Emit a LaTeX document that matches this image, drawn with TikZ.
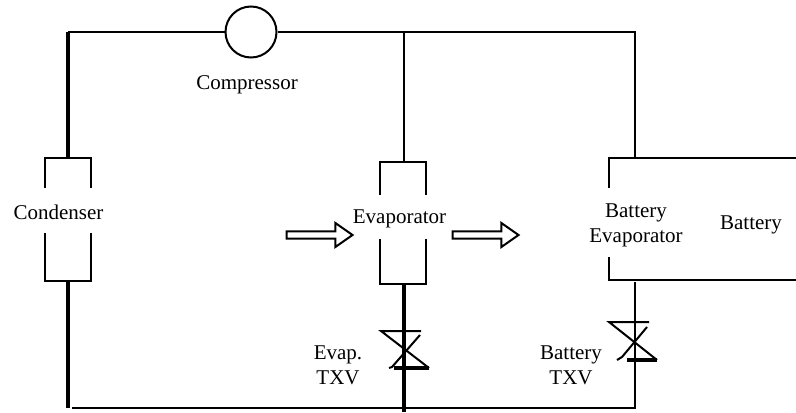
\documentclass[tikz,border=0pt]{standalone}
\usepackage{fontspec}
\setmainfont{Liberation Serif}
\usetikzlibrary{shapes.arrows}
\tikzset{
  pipe/.style={line width=1pt},
  thickpipe/.style={line width=1.6pt},
  label/.style={font=\fontsize{10.5}{12.5}\selectfont,align=center,inner sep=0pt},
  airflow/.style={draw,line width=1pt,single arrow,inner sep=0pt,minimum height=33pt,
    minimum width=12pt,single arrow head extend=1.2pt,single arrow tip angle=70,
    single arrow head indent=0pt},
}
\begin{document}
\begin{tikzpicture}[x=0.5pt,y=-0.5pt]
\useasboundingbox (0,0) rectangle (796,412);
% compressor and labels
\node[draw,circle,line width=1pt,minimum size=25.5pt,inner sep=0pt] (comp) at (251,32) {};
\node[label] (complabel) at (247,85) {Compressor};
\node[label] (condlabel) at (58.5,212) {Condenser};
\node[label] (evaplabel) at (399.5,219) {Evaporator};
\node[label] (battevaplabel) at (636,225) {Battery\\Evaporator};
\node[label] (battlabel) at (751,225) {Battery};
\node[label] (evaptxvlabel) at (338,365) {Evap.\\TXV};
\node[label] (batttxvlabel) at (571,365) {Battery\\TXV};
% air arrows
\node[airflow] (airin) at (317,235) {};
\node[airflow] (airout) at (483,235) {};
% corners and junctions
\coordinate (tl) at (68,32);
\coordinate (tm) at (404,32);
\coordinate (tr) at (635,32);
\coordinate (bl) at (68,408);
\coordinate (blb) at (72,408);
\coordinate (bme) at (404,412);
\coordinate (br) at (635,408);
\coordinate (condt) at (68,158);
\coordinate (condb) at (68,282);
\coordinate (evapt) at (404,162);
\coordinate (evapb) at (404,285);
\coordinate (battt) at (635,158);
\coordinate (battb) at (635,282);
% condenser
\draw[pipe] (45,188) -- (45,158) -- (91,158) -- (91,188);
\draw[pipe] (45,233) -- (45,281) -- (91,281) -- (91,233);
% evaporator
\draw[pipe] (380,195) -- (380,162) -- (426,162) -- (426,195);
\draw[pipe] (380,239) -- (380,284) -- (426,284) -- (426,239);
% battery
\draw[pipe] (796,158) -- (609,158) -- (609,188);
\draw[pipe] (609,257) -- (609,280) -- (796,280);
% pipes
\draw[thickpipe] (condt) -- (tl);
\draw[pipe] (tl) -- (comp.west);
\draw[pipe] (comp.east) -- (tr) -- (battt);
\draw[pipe] (tm) -- (evapt);
\draw[thickpipe] (condb) -- (bl);
\draw[pipe] (blb) -- (br) -- (battb);
\draw[thickpipe] (evapb) -- (bme);
% evap. txv
\draw[pipe] (421,331) -- (381,331) -- (429,368);
\draw[pipe] (420,335) -- (392,367) -- (389,368);
\draw[thickpipe] (394,368) -- (429,368);
% battery txv
\draw[pipe] (649,322) -- (609,322) -- (657,360);
\draw[pipe] (647,327) -- (622,357) -- (617,360);
\draw[thickpipe] (627,360) -- (657,360);
\end{tikzpicture}
\end{document}
